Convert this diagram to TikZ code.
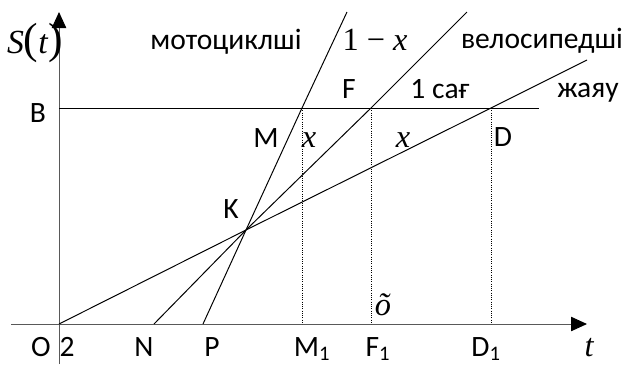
\documentclass[tikz,border=0pt]{standalone}
\usepackage{fontspec}
\setmainfont{Carlito}
\newfontfamily\tnr{Liberation Serif}
\usetikzlibrary{arrows.meta}

\begin{document}
\begin{tikzpicture}[
  x=0.025cm, y=-0.025cm,
  font=\fontsize{21}{25}\selectfont,
  ln/.style={line width=0.7pt},
  dotln/.style={line width=0.6pt, densely dotted},
  axis/.style={line width=0.7pt, gray!70!black, -{Triangle[length=0.4cm, width=0.36cm, color=black]}},
  lab/.style={anchor=base, inner sep=0pt},
  mlab/.style={lab, font=\tnr\fontsize{23}{26}\selectfont\itshape}]
  \useasboundingbox (0,0) rectangle (625,364);
  % points
  \coordinate (O) at (59,324);
  \coordinate (N) at (154,324);
  \coordinate (P) at (203,324);
  \coordinate (K) at (246,230);
  \coordinate (B) at (59,108);
  \coordinate (Bend) at (539,108);
  \coordinate (M) at (302,108);
  \coordinate (F) at (371,108);
  \coordinate (D) at (491,108);
  \coordinate (M1) at (302,324);
  \coordinate (F1) at (371,324);
  \coordinate (D1) at (491,324);
  \coordinate (motoend) at (347,12);
  \coordinate (veloend) at (467,12);
  \coordinate (walkend) at (587,60);
  \coordinate (ybot) at (59,364);
  \coordinate (ytop) at (59,12);
  \coordinate (xleft) at (11,324);
  \coordinate (xright) at (587,324);
  % axes
  \draw[axis] (ybot) -- (ytop);
  \draw[axis] (xleft) -- (xright);
  % lines
  \draw[ln] (B) -- (Bend);
  \draw[ln] (O) -- (K) -- (D) -- (walkend);
  \draw[ln] (N) -- (K) -- (F) -- (veloend);
  \draw[ln] (P) -- (K) -- (M) -- (motoend);
  \draw[dotln] (M) -- (M1);
  \draw[dotln] (F) -- (F1);
  \draw[dotln] (D) -- (D1);
  % labels
  \node[lab, font=\tnr\fontsize{24}{26}\selectfont] (St) at (35,53)
    {\textit{S}{\fontsize{31}{31}\selectfont(}\textit{t}{\fontsize{31}{31}\selectfont)}};
  \node[lab] (moto) at (226,49) {мотоциклші};
  \node[lab, font=\tnr\fontsize{23}{26}\selectfont] (onex) at (375,50) {1 − \textit{x}};
  \node[lab] (velo) at (542,48) {велосипедші};
  \node[lab] (Flab) at (349,98) {F};
  \node[lab] (hour) at (440,98) {1 сағ};
  \node[lab] (walk) at (588,97) {жаяу};
  \node[lab] (Blab) at (38,122) {B};
  \node[lab] (Mlab) at (266,147) {M};
  \node[mlab] (xa) at (309,147) {x};
  \node[mlab] (xb) at (403,147) {x};
  \node[lab] (Dlab) at (503,146) {D};
  \node[lab] (Klab) at (231,218) {K};
  \node[mlab] (tilo) at (383,315) {õ};
  \node[lab] (Olab) at (41,356) {O};
  \node[lab] (two) at (67,356) {2};
  \node[lab] (Nlab) at (144,356) {N};
  \node[lab] (Plab) at (212,356) {P};
  \node[lab] (M1lab) at (312,356) {M\textsubscript{1}};
  \node[lab] (F1lab) at (378,356) {F\textsubscript{1}};
  \node[lab] (D1lab) at (486,356) {D\textsubscript{1}};
  \node[mlab] (tlab) at (589,356) {t};
\end{tikzpicture}
\end{document}
